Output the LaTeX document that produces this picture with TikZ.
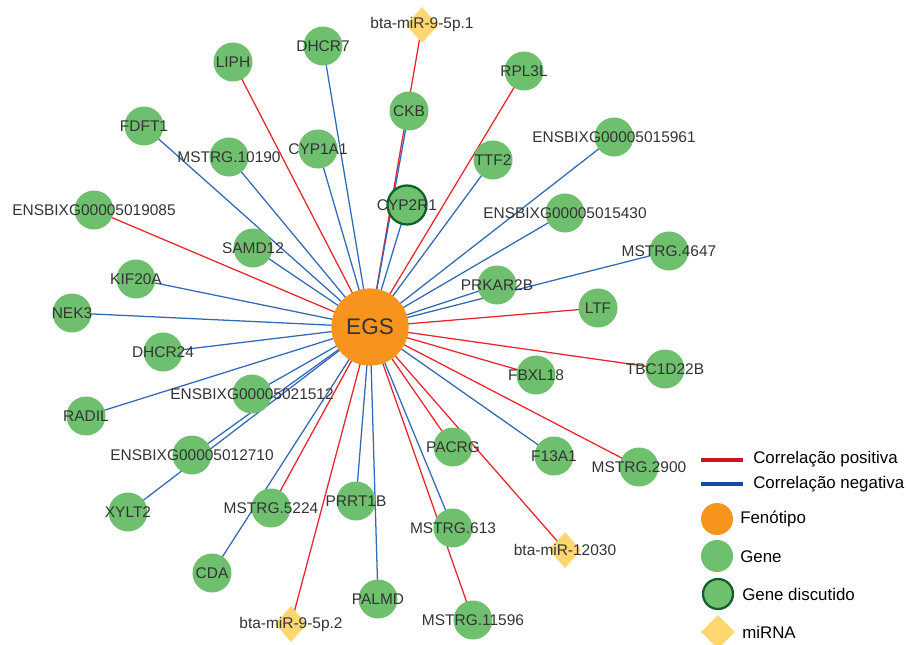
\documentclass[tikz,border=0pt]{standalone}
\usepackage{fontspec}
\setmainfont{Liberation Sans}
\usetikzlibrary{shapes.geometric}
\definecolor{genegreen}{RGB}{110,192,110}
\definecolor{fenorange}{RGB}{247,148,30}
\definecolor{mirgold}{RGB}{255,214,112}
\definecolor{discgreen}{RGB}{15,95,40}
\definecolor{corred}{RGB}{232,36,44}
\definecolor{corblue}{RGB}{50,105,180}
\definecolor{legred}{RGB}{204,20,30}
\definecolor{legblue}{RGB}{25,75,160}
\definecolor{txtgray}{RGB}{51,51,51}
\pgfdeclarelayer{bg}
\pgfsetlayers{bg,main}

\begin{document}
\begin{tikzpicture}[x=0.025cm,y=-0.025cm,
  lbl/.style={text=txtgray,inner sep=0pt,font=\fontsize{11}{13}\selectfont},
  gene/.style={circle,fill=genegreen,minimum size=0.975cm,inner sep=0pt,label={[lbl]center:#1}},
  discut/.style={gene=#1,draw=discgreen,line width=1.6pt},
  mirna/.style={diamond,fill=mirgold,minimum width=0.8cm,minimum height=0.9cm,inner sep=0pt,label={[lbl]center:#1}},
  fenot/.style={circle,fill=fenorange,minimum size=1.93cm,inner sep=0pt,text=txtgray,font=\fontsize{16}{18}\selectfont},
  corpos/.style={corred,line width=0.9pt},
  corneg/.style={corblue,line width=0.9pt},
  legtxt/.style={anchor=west,inner sep=0pt,font=\fontsize{12}{14}\selectfont}]
  \useasboundingbox (0,0) rectangle (906,644);
  % fenotipo central
  \node[fenot] (egs) at (370,327) {EGS};
  % genes
  \foreach \n/\x/\y/\t in {liph/233/62/LIPH, dhcr7/323/46/DHCR7, ckb/409/111/CKB,
      fdft1/144/126/FDFT1, m10190/229/157/MSTRG.10190, cyp1a1/318/149/CYP1A1,
      e19085/94/210/ENSBIXG00005019085, samd12/253/248/SAMD12, kif20a/136/279/KIF20A,
      nek3/72/313/NEK3, rpl3l/524/71/RPL3L, e15961/614/137/ENSBIXG00005015961,
      ttf2/493/160/TTF2, e15430/565/213/ENSBIXG00005015430, m4647/669/251/MSTRG.4647,
      prkar2b/497/285/PRKAR2B, ltf/598/308/LTF, dhcr24/163/352/DHCR24,
      e21512/252/394/ENSBIXG00005021512, radil/86/416/RADIL,
      e12710/192/455/ENSBIXG00005012710, xylt2/128/512/XYLT2, m5224/271/508/MSTRG.5224,
      prrt1b/356/501/PRRT1B, cda/212/573/CDA, palmd/378/599/PALMD,
      fbxl18/536/375/FBXL18, tbc1d22b/665/369/TBC1D22B, f13a1/554/456/F13A1,
      m2900/639/467/MSTRG.2900, pacrg/453/447/PACRG, m613/453/528/MSTRG.613,
      m11596/473/620/MSTRG.11596}
    \node[gene=\t] (\n) at (\x,\y) {};
  % gene discutido
  \node[discut=CYP2R1] (cyp2r1) at (407,205) {};
  % miRNAs
  \node[mirna=bta-miR-9-5p.1] (mir9a) at (422,25) {};
  \node[mirna=bta-miR-9-5p.2] (mir9b) at (291,624) {};
  \node[mirna=bta-miR-12030] (mir12030) at (565,550) {};
  % correlacoes
  \begin{pgfonlayer}{bg}
    \foreach \n/\c in {liph/corpos, dhcr7/corneg, mir9a/corpos, ckb/corneg, fdft1/corneg,
        m10190/corneg, cyp1a1/corneg, e19085/corpos, cyp2r1/corneg, samd12/corneg,
        kif20a/corneg, nek3/corneg, rpl3l/corpos, e15961/corneg, ttf2/corneg,
        e15430/corneg, m4647/corneg, prkar2b/corneg, ltf/corpos, dhcr24/corneg,
        e21512/corneg, radil/corneg, e12710/corneg, xylt2/corneg, m5224/corpos,
        prrt1b/corneg, cda/corneg, palmd/corneg, mir9b/corpos, fbxl18/corpos,
        tbc1d22b/corpos, f13a1/corneg, m2900/corpos, pacrg/corpos, mir12030/corpos,
        m613/corneg, m11596/corpos}
      \draw[\c] (egs.center) -- (\n.center);
  \end{pgfonlayer}
  % legenda
  \coordinate (lp1) at (701,460); \coordinate (lp2) at (743,460);
  \coordinate (ln1) at (701,484); \coordinate (ln2) at (743,484);
  \draw[legred,line width=2.8pt] (lp1) -- (lp2);
  \draw[legblue,line width=2.8pt] (ln1) -- (ln2);
  \node[legtxt] (tpos) at (753,459) {Correlação positiva};
  \node[legtxt] (tneg) at (753,484) {Correlação negativa};
  \node[circle,fill=fenorange,minimum size=0.8cm,inner sep=0pt] (kfen) at (717,519) {};
  \node[legtxt] (tfen) at (740,519) {Fenótipo};
  \node[circle,fill=genegreen,minimum size=0.8cm,inner sep=0pt] (kgene) at (717,556) {};
  \node[legtxt] (tgene) at (740,557) {Gene};
  \node[circle,fill=genegreen,draw=discgreen,line width=1.6pt,minimum size=0.75cm,inner sep=0pt] (kdisc) at (718,594) {};
  \node[legtxt] (tdisc) at (742,594) {Gene discutido};
  \node[diamond,fill=mirgold,minimum width=0.85cm,minimum height=0.85cm,inner sep=0pt] (kmir) at (718,632) {};
  \node[legtxt] (tmir) at (742,632) {miRNA};
\end{tikzpicture}
\end{document}
